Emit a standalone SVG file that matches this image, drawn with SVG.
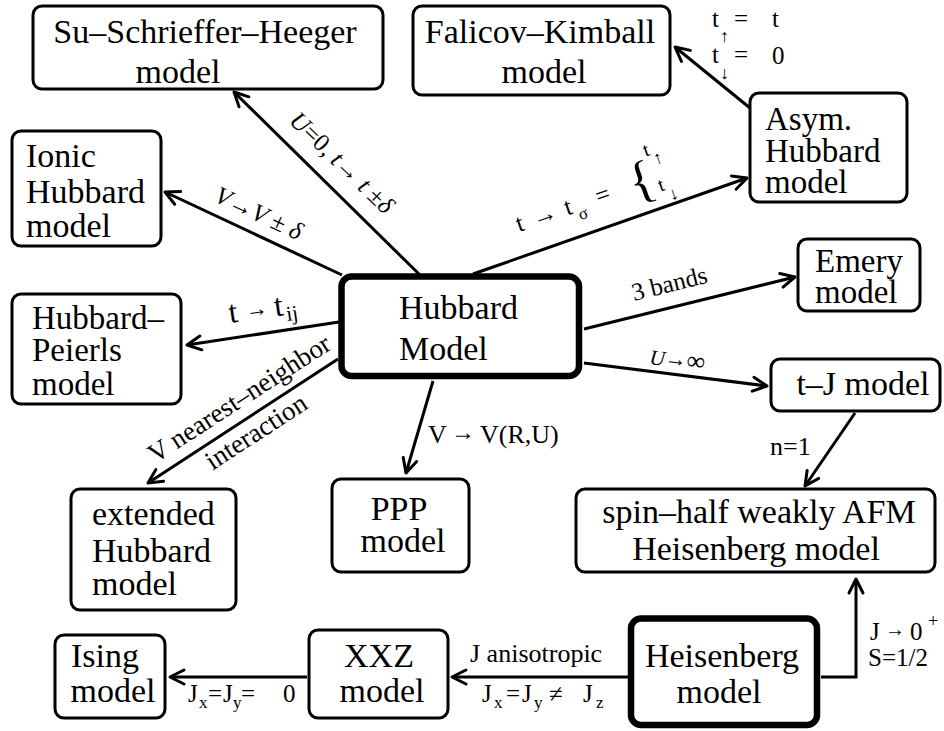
<svg xmlns="http://www.w3.org/2000/svg" width="944" height="731" viewBox="0 0 944 731" font-family="Liberation Serif, serif">
<defs>
<marker id="ah" markerUnits="userSpaceOnUse" markerWidth="20" markerHeight="20" viewBox="-10 -10 20 20" refX="0" refY="0" orient="auto" overflow="visible">
<path d="M-14,-7 L0,0 L-14,7" fill="none" stroke="#000" stroke-width="3" stroke-linecap="round" stroke-linejoin="round"/>
</marker>
</defs>
<rect width="944" height="731" fill="#fff"/>

<g id="connectors" fill="none" stroke="#000" stroke-width="3" marker-end="url(#ah)">
<path d="M420,275 L234,92"/>
<path d="M342,275 L165,192"/>
<path d="M473,274 L747,178"/>
<path d="M750,108 L675,47"/>
<path d="M584,329 L795,277"/>
<path d="M584,363 L767,386"/>
<path d="M339,322 L187,345"/>
<path d="M338,359 L148,483"/>
<path d="M433,381 L406,473"/>
<path d="M855,413 L805,486"/>
<path d="M821,677 H856 V579"/>
<path d="M628,677 H452"/>
<path d="M307,677 H170"/>
</g>

<g id="edge-labels" font-size="25" fill="#000">
<text style="font-family:'Liberation Serif',serif" transform="translate(288,122) rotate(44)"><tspan font-style="italic">U</tspan>=0, <tspan font-style="italic">t</tspan>→ <tspan font-style="italic">t</tspan> ±<tspan font-style="italic">δ</tspan></text>
<text style="font-family:'Liberation Serif',serif" transform="translate(213,201) rotate(25)"><tspan font-style="italic">V</tspan>→<tspan font-style="italic">V</tspan> ± <tspan font-style="italic">δ</tspan></text>
<g transform="translate(519,232) rotate(-19)">
<text style="font-family:'Liberation Serif',serif" x="0" y="0">t</text>
<text style="font-family:'Liberation Serif',serif" x="17" y="0">→</text>
<text style="font-family:'Liberation Serif',serif" x="51" y="0">t</text>
<text style="font-family:'Liberation Serif',serif" x="62" y="9" font-size="17">σ</text>
<text style="font-family:'Liberation Serif',serif" x="84" y="0">=</text>
<text style="font-family:'Liberation Serif',serif" x="120" y="8" font-size="52">{</text>
<text style="font-family:'Liberation Serif',serif" x="144" y="-30" font-size="20">t</text>
<text style="font-family:'Liberation Serif',serif" x="151" y="-19" font-size="18">↑</text>
<text style="font-family:'Liberation Serif',serif" x="147" y="8" font-size="20">t</text>
<text style="font-family:'Liberation Serif',serif" x="154" y="20" font-size="18">↓</text>
</g>
<text style="font-family:'Liberation Serif',serif" transform="translate(634,301) rotate(-14)">3 bands</text>
<g transform="translate(649,364) rotate(7)">
<text style="font-family:'Liberation Serif',serif" x="0" y="0" font-size="21" font-style="italic">U</text>
<text style="font-family:'Liberation Serif',serif" x="15" y="-1" font-size="22">→</text>
<text style="font-family:'Liberation Serif',serif" x="37" y="0" font-size="26">∞</text>
</g>
<g transform="translate(230,323) rotate(-8)">
<text style="font-family:'Liberation Serif',serif" x="0" y="0" font-size="32">t</text>
<text style="font-family:'Liberation Serif',serif" x="17" y="-3" font-size="22">→</text>
<text style="font-family:'Liberation Serif',serif" x="46" y="0" font-size="32">t</text>
<text style="font-family:'Liberation Serif',serif" x="57" y="6" font-size="21">ij</text>
</g>
<g transform="translate(244,406) rotate(-33)" text-anchor="middle" font-size="27">
<text style="font-family:'Liberation Serif',serif" x="0" y="0">V nearest–neighbor</text>
<text style="font-family:'Liberation Serif',serif" x="-4" y="37">interaction</text>
</g>
<text style="font-family:'Liberation Serif',serif" x="428" y="443" font-size="26">V</text>
<text style="font-family:'Liberation Serif',serif" x="451" y="440" font-size="24">→</text>
<text style="font-family:'Liberation Serif',serif" x="480" y="443" font-size="26">V(R,U)</text>
<text style="font-family:'Liberation Serif',serif" x="770" y="455" font-size="26">n=1</text>
<text style="font-family:'Liberation Serif',serif" x="712" y="27">t</text>
<text style="font-family:'Liberation Serif',serif" x="720" y="42" font-size="18">↑</text>
<text style="font-family:'Liberation Serif',serif" x="734" y="27">=</text>
<text style="font-family:'Liberation Serif',serif" x="772" y="27">t</text>
<text style="font-family:'Liberation Serif',serif" x="712" y="63">t</text>
<text style="font-family:'Liberation Serif',serif" x="720" y="79" font-size="18">↓</text>
<text style="font-family:'Liberation Serif',serif" x="734" y="63">=</text>
<text style="font-family:'Liberation Serif',serif" x="772" y="64">0</text>
<text style="font-family:'Liberation Serif',serif" x="470" y="662" font-size="26">J anisotropic</text>
<text style="font-family:'Liberation Serif',serif" x="482" y="702">J</text>
<text style="font-family:'Liberation Serif',serif" x="494" y="708" font-size="17">x</text>
<text style="font-family:'Liberation Serif',serif" x="506" y="702">=</text>
<text style="font-family:'Liberation Serif',serif" x="522" y="702">J</text>
<text style="font-family:'Liberation Serif',serif" x="534" y="708" font-size="17">y</text>
<text style="font-family:'Liberation Serif',serif" x="549" y="702">≠</text>
<text style="font-family:'Liberation Serif',serif" x="583" y="702">J</text>
<text style="font-family:'Liberation Serif',serif" x="596" y="708" font-size="17">z</text>
<text style="font-family:'Liberation Serif',serif" x="188" y="702">J</text>
<text style="font-family:'Liberation Serif',serif" x="199" y="708" font-size="17">x</text>
<text style="font-family:'Liberation Serif',serif" x="208" y="702">=</text>
<text style="font-family:'Liberation Serif',serif" x="223" y="702">J</text>
<text style="font-family:'Liberation Serif',serif" x="233" y="708" font-size="17">y</text>
<text style="font-family:'Liberation Serif',serif" x="241" y="702">=</text>
<text style="font-family:'Liberation Serif',serif" x="283" y="702">0</text>
<text style="font-family:'Liberation Serif',serif" x="870" y="640">J</text>
<text style="font-family:'Liberation Serif',serif" x="885" y="636" font-size="20">→</text>
<text style="font-family:'Liberation Serif',serif" x="910" y="640">0</text>
<text style="font-family:'Liberation Serif',serif" x="928" y="627" font-size="18">+</text>
<text style="font-family:'Liberation Serif',serif" x="868" y="666">S=1/2</text>
</g>

<g id="nodes" font-size="34">
<g id="ssh">
<rect x="33" y="6" width="350" height="83" rx="9" fill="#fff" stroke="#000" stroke-width="3"/>
<text style="font-family:'Liberation Serif',serif" x="205" y="43" text-anchor="middle">Su–Schrieffer–Heeger</text>
<text style="font-family:'Liberation Serif',serif" x="178" y="83" text-anchor="middle">model</text>
</g>
<g id="falicov">
<rect x="413" y="6" width="257" height="89" rx="9" fill="#fff" stroke="#000" stroke-width="3"/>
<text style="font-family:'Liberation Serif',serif" x="540" y="43" text-anchor="middle">Falicov–Kimball</text>
<text style="font-family:'Liberation Serif',serif" x="544" y="83" text-anchor="middle">model</text>
</g>
<g id="ionic">
<rect x="12" y="131" width="149" height="115" rx="9" fill="#fff" stroke="#000" stroke-width="3"/>
<text style="font-family:'Liberation Serif',serif" x="26" y="167">Ionic</text>
<text style="font-family:'Liberation Serif',serif" x="26" y="203">Hubbard</text>
<text style="font-family:'Liberation Serif',serif" x="26" y="237">model</text>
</g>
<g id="asym" font-size="33">
<rect x="750" y="93" width="157" height="109" rx="9" fill="#fff" stroke="#000" stroke-width="3"/>
<text style="font-family:'Liberation Serif',serif" x="765" y="130">Asym.</text>
<text style="font-family:'Liberation Serif',serif" x="765" y="162">Hubbard</text>
<text style="font-family:'Liberation Serif',serif" x="765" y="193">model</text>
</g>
<g id="emery" font-size="33">
<rect x="798" y="239" width="122" height="72" rx="9" fill="#fff" stroke="#000" stroke-width="3"/>
<text style="font-family:'Liberation Serif',serif" x="815" y="272">Emery</text>
<text style="font-family:'Liberation Serif',serif" x="815" y="303">model</text>
</g>
<g id="hubbard">
<rect x="341.5" y="276.5" width="237.5" height="99.5" rx="10" fill="#fff" stroke="#000" stroke-width="6.5"/>
<text style="font-family:'Liberation Serif',serif" x="399" y="319">Hubbard</text>
<text style="font-family:'Liberation Serif',serif" x="399" y="360">Model</text>
</g>
<g id="peierls" font-size="33">
<rect x="12" y="294" width="169" height="110" rx="9" fill="#fff" stroke="#000" stroke-width="3"/>
<text style="font-family:'Liberation Serif',serif" x="32" y="329">Hubbard–</text>
<text style="font-family:'Liberation Serif',serif" x="32" y="361">Peierls</text>
<text style="font-family:'Liberation Serif',serif" x="32" y="395">model</text>
</g>
<g id="tj">
<rect x="771" y="359" width="169" height="52" rx="9" fill="#fff" stroke="#000" stroke-width="3"/>
<text style="font-family:'Liberation Serif',serif" x="863" y="395" text-anchor="middle">t–J model</text>
</g>
<g id="ppp">
<rect x="332" y="479" width="137" height="93" rx="9" fill="#fff" stroke="#000" stroke-width="3"/>
<text style="font-family:'Liberation Serif',serif" x="399" y="520" text-anchor="middle">PPP</text>
<text style="font-family:'Liberation Serif',serif" x="403" y="552" text-anchor="middle">model</text>
</g>
<g id="extended">
<rect x="71" y="489" width="165" height="121" rx="9" fill="#fff" stroke="#000" stroke-width="3"/>
<text style="font-family:'Liberation Serif',serif" x="92" y="525">extended</text>
<text style="font-family:'Liberation Serif',serif" x="92" y="562">Hubbard</text>
<text style="font-family:'Liberation Serif',serif" x="92" y="595">model</text>
</g>
<g id="spinhalf">
<rect x="576" y="489" width="359" height="83" rx="9" fill="#fff" stroke="#000" stroke-width="3"/>
<text style="font-family:'Liberation Serif',serif" x="759" y="523" text-anchor="middle">spin–half weakly AFM</text>
<text style="font-family:'Liberation Serif',serif" x="756" y="560" text-anchor="middle">Heisenberg model</text>
</g>
<g id="ising">
<rect x="55" y="635" width="110" height="83" rx="9" fill="#fff" stroke="#000" stroke-width="3"/>
<text style="font-family:'Liberation Serif',serif" x="105" y="667" text-anchor="middle">Ising</text>
<text style="font-family:'Liberation Serif',serif" x="113" y="702" text-anchor="middle">model</text>
</g>
<g id="xxz">
<rect x="309" y="630" width="139" height="88" rx="9" fill="#fff" stroke="#000" stroke-width="3"/>
<text style="font-family:'Liberation Serif',serif" x="379" y="667" text-anchor="middle">XXZ</text>
<text style="font-family:'Liberation Serif',serif" x="382" y="702" text-anchor="middle">model</text>
</g>
<g id="heisenberg">
<rect x="631" y="618.5" width="186" height="106.5" rx="10" fill="#fff" stroke="#000" stroke-width="6.5"/>
<text style="font-family:'Liberation Serif',serif" x="722" y="667" text-anchor="middle">Heisenberg</text>
<text style="font-family:'Liberation Serif',serif" x="719" y="703" text-anchor="middle">model</text>
</g>
</g>
</svg>
